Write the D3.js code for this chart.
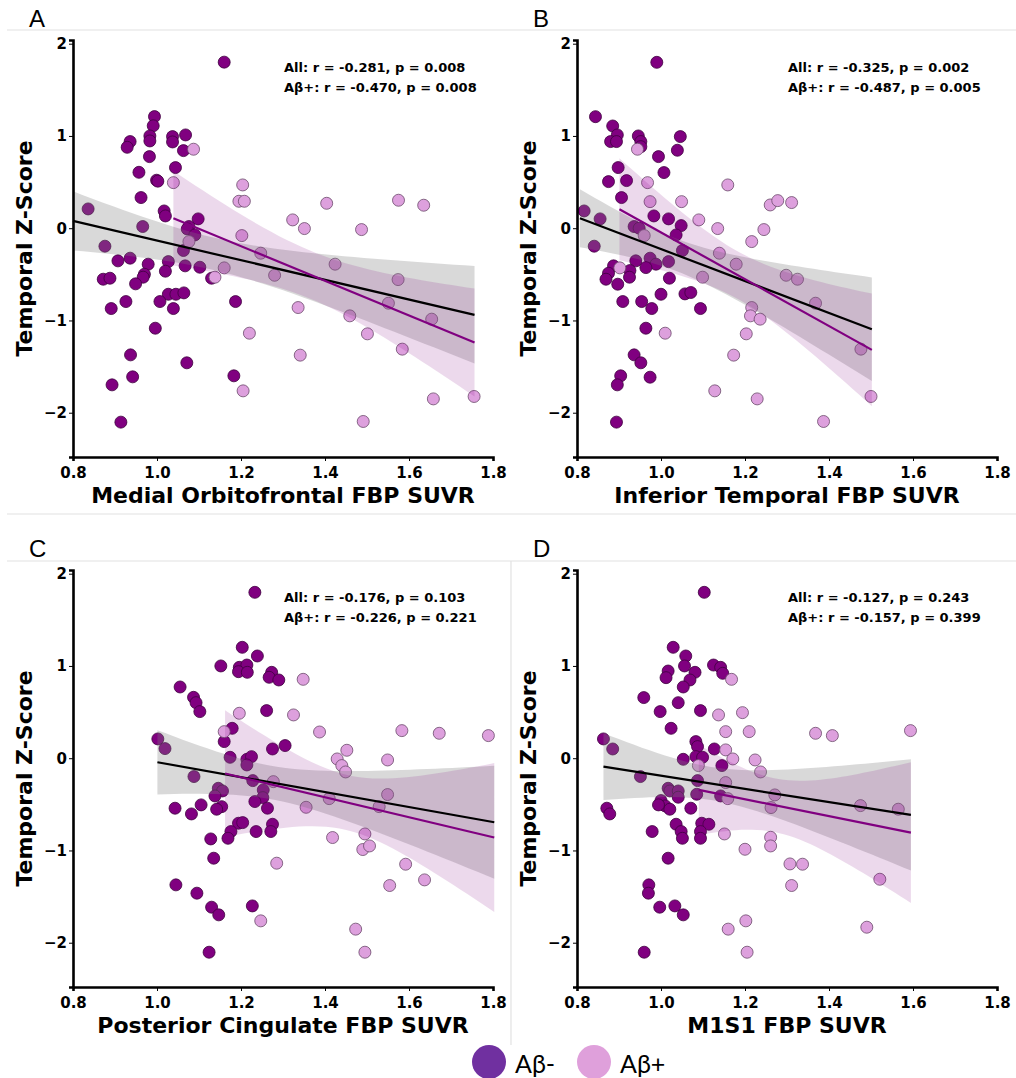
<!DOCTYPE html>
<html><head><meta charset="utf-8">
<script src="https://cdn.jsdelivr.net/npm/d3@7"></script>
<style>body{margin:0;background:#fff;} svg{display:block}</style>
</head><body><svg id="chart" width="1016" height="1078"></svg>
<script>
// ---------------- DATA ----------------
const xTicks = [0.8, 1.0, 1.2, 1.4, 1.6, 1.8];
const yTicks = [-2, -1, 0, 1, 2];
const panelLetters = ["A", "B", "C", "D"];
const xLabels = ["Medial Orbitofrontal FBP SUVR", "Inferior Temporal FBP SUVR", "Posterior Cingulate FBP SUVR", "M1S1 FBP SUVR"];
const yLabel = "Temporal Z-Score";
const statsAll = ["All: r = -0.281, p = 0.008", "All: r = -0.325, p = 0.002", "All: r = -0.176, p = 0.103", "All: r = -0.127, p = 0.243"];
const statsPos = ["Aβ+: r = -0.470, p = 0.008", "Aβ+: r = -0.487, p = 0.005", "Aβ+: r = -0.226, p = 0.221", "Aβ+: r = -0.157, p = 0.399"];
const legendLabels = ["Aβ-", "Aβ+"];

// Panel A (Medial Orbitofrontal)
const aNegX = [1.160,0.994,0.991,0.983,0.983,0.936,0.929,1.037,1.037,1.068,1.063,0.982,1.044,0.957,0.999,1.002,0.962,0.836,1.017,1.020,1.098,0.966,1.076,1.072,1.090,0.876,1.063,0.907,0.936,0.979,1.027,1.067,1.102,1.020,0.970,0.967,0.949,0.872,0.888,1.130,1.027,1.045,1.064,1.007,0.926,0.891,1.039,1.187,0.996,0.937,1.071,0.942,0.893,1.183,0.914];
const aNegY = [1.80,1.21,1.11,1.00,0.946,0.939,0.877,0.993,0.935,1.011,0.841,0.776,0.657,0.606,0.52,0.51,0.332,0.209,0.187,0.133,0.101,0.018,0.018,-0.008,-0.073,-0.195,-0.242,-0.354,-0.325,-0.390,-0.362,-0.408,-0.423,-0.466,-0.499,-0.531,-0.603,-0.553,-0.542,-0.542,-0.716,-0.716,-0.701,-0.795,-0.795,-0.871,-0.871,-0.795,-1.084,-1.373,-1.459,-1.611,-1.698,-1.600,-2.102];
const aPosX = [1.087,1.039,1.204,1.195,1.208,1.202,1.076,1.247,1.160,1.138,1.280,1.220,1.205,1.404,1.323,1.351,1.487,1.575,1.635,1.424,1.574,1.551,1.654,1.336,1.459,1.501,1.584,1.341,1.658,1.755,1.491];
const aPosY = [0.856,0.494,0.469,0.292,0.292,-0.080,-0.145,-0.271,-0.430,-0.531,-0.510,-1.138,-1.763,0.270,0.090,-0.004,-0.015,0.303,0.249,-0.390,-0.557,-0.813,-0.986,-0.860,-0.950,-1.145,-1.311,-1.376,-1.850,-1.824,-2.095];

// Panel B (Inferior Temporal)
const bNegX = [0.990,0.844,0.885,0.896,0.880,0.894,0.946,0.952,0.952,1.046,1.039,0.994,0.898,1.007,0.875,0.918,0.906,0.817,0.855,0.983,1.018,0.936,0.948,1.048,1.036,1.051,0.841,0.940,0.974,0.988,1.018,0.964,0.887,0.926,0.925,0.875,0.869,0.897,1.020,1.057,1.071,1.000,0.909,0.954,0.978,1.094,0.964,0.936,0.952,0.904,0.896,0.974,0.894];
const bNegY = [1.798,1.209,1.108,1.011,0.939,0.939,1.000,0.939,0.884,0.993,0.845,0.776,0.657,0.603,0.505,0.516,0.332,0.187,0.101,0.133,0.101,0.018,0.000,0.028,-0.073,-0.242,-0.195,-0.354,-0.325,-0.390,-0.362,-0.427,-0.408,-0.459,-0.531,-0.488,-0.553,-0.607,-0.542,-0.712,-0.697,-0.716,-0.795,-0.795,-0.871,-0.871,-1.084,-1.373,-1.459,-1.600,-1.698,-1.615,-2.102];
const bPosX = [0.944,0.968,1.159,0.974,1.049,1.260,1.278,1.311,1.090,1.135,1.245,1.216,0.960,1.139,1.179,0.902,1.099,1.298,1.325,1.216,1.213,1.236,1.203,1.010,1.173,1.128,1.229,1.368,1.476,1.500,1.387];
const bPosY = [0.856,0.494,0.469,0.288,0.288,0.252,0.299,0.278,0.090,-0.004,-0.015,-0.145,-0.080,-0.271,-0.390,-0.430,-0.531,-0.510,-0.553,-0.860,-0.950,-0.986,-1.145,-1.138,-1.376,-1.763,-1.850,-0.813,-1.311,-1.824,-2.095];

// Panel C (Posterior Cingulate)
const cNegX = [1.233,1.203,1.239,1.152,1.196,1.214,1.194,1.215,1.273,1.267,1.290,1.055,1.087,1.093,1.102,1.261,1.179,1.002,1.019,1.160,1.275,1.305,1.174,1.214,1.225,1.214,1.088,1.228,1.146,1.156,1.138,1.154,1.142,1.253,1.252,1.233,1.263,1.043,1.082,1.105,1.194,1.204,1.176,1.169,1.236,1.275,1.271,1.128,1.135,1.045,1.095,1.130,1.147,1.227,1.124];
const cNegY = [1.798,1.202,1.108,1.000,0.985,1.010,0.938,0.931,0.931,0.877,0.848,0.772,0.660,0.602,0.505,0.516,0.324,0.209,0.104,0.180,0.100,0.137,0.010,-0.012,0.017,-0.073,-0.199,-0.243,-0.326,-0.355,-0.409,-0.525,-0.553,-0.344,-0.427,-0.470,-0.542,-0.542,-0.604,-0.506,-0.705,-0.698,-0.795,-0.868,-0.795,-0.716,-0.795,-0.875,-1.084,-1.373,-1.463,-1.615,-1.698,-1.601,-2.103];
const cPosX = [1.196,1.160,1.277,1.285,1.247,1.348,1.325,1.387,1.583,1.672,1.789,1.452,1.429,1.440,1.449,1.549,1.410,1.355,1.549,1.529,1.418,1.495,1.490,1.506,1.592,1.554,1.637,1.473,1.495];
const cPosY = [0.487,0.288,-0.254,-1.138,-1.763,0.855,0.469,0.284,0.299,0.270,0.245,0.086,-0.008,-0.080,-0.149,-0.019,-0.438,-0.532,-0.394,-0.525,-0.860,-0.821,-0.990,-0.951,-1.149,-1.380,-1.319,-1.853,-2.103];

// Panel D (M1S1)
const dNegX = [1.103,1.029,1.059,1.056,1.017,1.012,1.081,1.069,1.053,1.125,1.142,1.147,0.959,1.041,0.998,1.094,1.024,0.863,0.885,1.083,1.087,1.127,1.053,1.083,1.099,1.145,0.951,1.087,1.017,1.021,1.041,1.041,1.085,1.142,1.000,1.010,1.021,0.994,1.071,0.871,0.878,1.097,1.114,1.036,1.048,1.051,1.094,1.094,0.979,1.017,0.971,0.970,0.997,1.033,1.053,0.960];
const dNegY = [1.798,1.202,1.108,1.000,0.945,0.873,0.931,0.848,0.772,1.010,0.985,0.920,0.657,0.602,0.505,0.516,0.324,0.209,0.100,0.180,0.126,0.100,-0.012,0.017,0.010,-0.080,-0.199,-0.243,-0.326,-0.355,-0.355,-0.423,-0.391,-0.409,-0.459,-0.517,-0.553,-0.506,-0.542,-0.542,-0.604,-0.705,-0.716,-0.716,-0.795,-0.868,-0.795,-0.868,-0.795,-1.084,-1.373,-1.463,-1.615,-1.601,-1.698,-2.103];
const dPosX = [1.168,1.137,1.194,1.154,1.210,1.154,1.171,1.224,1.089,1.237,1.154,1.159,1.271,1.262,1.151,1.261,1.261,1.200,1.307,1.311,1.160,1.202,1.205,1.368,1.408,1.594,1.475,1.565,1.337,1.521,1.490];
const dPosY = [0.855,0.469,0.494,0.288,0.288,0.090,-0.008,-0.019,-0.080,-0.149,-0.264,-0.438,-0.398,-0.535,-0.821,-0.857,-0.951,-0.987,-1.146,-1.380,-1.853,-1.763,-2.103,0.270,0.245,0.299,-0.514,-0.553,-1.149,-1.312,-1.832];

// Regression lines: [x0, y0, x1, y1]
const fitAll = [[0.800, 0.079, 1.756, -0.939], [0.807, 0.108, 1.502, -1.095], [1.001, -0.044, 1.803, -0.694], [0.863, -0.091, 1.595, -0.615]];
const fitPos = [[1.039, 0.108, 1.756, -1.239], [0.901, 0.205, 1.502, -1.319], [1.162, -0.166, 1.803, -0.860], [1.090, -0.344, 1.595, -0.806]];

// ---------------- DRAW ----------------
const panels = [
  {neg: [aNegX, aNegY], pos: [aPosX, aPosY]},
  {neg: [bNegX, bNegY], pos: [bPosX, bPosY]},
  {neg: [cNegX, cNegY], pos: [cPosX, cPosY]},
  {neg: [dNegX, dNegY], pos: [dPosX, dPosY]}
];
const svg = d3.select("#chart");
const FONT = "'DejaVu Sans', sans-serif";
const negFill = "#800080", posFill = "#dda0dd";

// separators
const sep = svg.append("g").attr("stroke", "#e2e2e2").attr("stroke-width", 1.2);
[30, 514, 561].forEach(y => sep.append("line").attr("x1", 7).attr("x2", 1016).attr("y1", y).attr("y2", y));
sep.append("line").attr("x1", 511).attr("x2", 511).attr("y1", 561).attr("y2", 1045);

function ciBand(xs, ys, fit) {
  const [x0, y0, x1, y1] = fit;
  const slope = (y1 - y0) / (x1 - x0), b = y0 - slope * x0;
  const n = xs.length, mx = d3.mean(xs);
  const sxx = d3.sum(xs, x => (x - mx) ** 2);
  const sse = d3.sum(xs, (x, i) => (ys[i] - (b + slope * x)) ** 2);
  const s = Math.sqrt(sse / (n - 2));
  const t = n > 40 ? 1.99 : 2.05;
  return d3.range(0, 41).map(i => {
    const x = x0 + (x1 - x0) * i / 40;
    const yh = b + slope * x;
    const h = t * s * Math.sqrt(1 / n + (x - mx) ** 2 / sxx);
    return {x, lo: yh - h, hi: yh + h};
  });
}

panels.forEach((p, k) => {
  const ox = (k % 2) * 504, oy = Math.floor(k / 2) * 530;
  const g = svg.append("g").attr("transform", `translate(${ox},${oy})`);
  const x = d3.scaleLinear().domain([0.8, 1.8]).range([73, 493]);
  const y = d3.scaleLinear().domain([-2.48, 2.04]).range([457, 40]);

  // panel letter
  g.append("text").attr("x", 29).attr("y", 27).text(panelLetters[k])
    .attr("font-family", "'Liberation Sans', Arial, sans-serif").attr("font-size", 24);

  // points
  const pts = [];
  p.neg[0].forEach((v, i) => pts.push({x: v, y: p.neg[1][i], grp: 0}));
  p.pos[0].forEach((v, i) => pts.push({x: v, y: p.pos[1][i], grp: 1}));
  g.append("g").selectAll("circle").data(pts).join("circle")
    .attr("cx", d => x(d.x)).attr("cy", d => y(d.y)).attr("r", 6)
    .attr("fill", d => d.grp ? posFill : negFill)
    .attr("stroke", d => d.grp ? "#6b4a6b" : "#3d003d").attr("stroke-width", 0.8);

  // CI bands
  const allX = p.neg[0].concat(p.pos[0]), allY = p.neg[1].concat(p.pos[1]);
  const area = d3.area().x(d => x(d.x)).y0(d => y(d.lo)).y1(d => y(d.hi));
  g.append("path").attr("d", area(ciBand(allX, allY, fitAll[k]))).attr("fill", "#808080").attr("opacity", 0.3);
  g.append("path").attr("d", area(ciBand(p.pos[0], p.pos[1], fitPos[k]))).attr("fill", "#800080").attr("opacity", 0.15);

  // regression lines
  [[fitAll[k], "#000"], [fitPos[k], "#800080"]].forEach(([f, c]) => {
    g.append("line").attr("x1", x(f[0])).attr("y1", y(f[1])).attr("x2", x(f[2])).attr("y2", y(f[3]))
      .attr("stroke", c).attr("stroke-width", 2.2);
  });

  // axes
  const ax = g.append("g").attr("transform", "translate(0,457)")
    .call(d3.axisBottom(x).tickValues(xTicks).tickFormat(d3.format(".1f")).tickSizeOuter(0).tickSize(4));
  const ay = g.append("g").attr("transform", "translate(73,0)")
    .call(d3.axisLeft(y).tickValues(yTicks).tickFormat(d3.format("d")).tickSizeOuter(0).tickSize(4));
  [ax, ay].forEach(a => {
    a.select(".domain").attr("stroke", "#000").attr("stroke-width", 2.6);
    a.selectAll(".tick line").attr("stroke", "#000").attr("stroke-width", 1);
    a.selectAll(".tick text").attr("font-family", FONT).attr("font-weight", "bold").attr("font-size", 15).attr("fill", "#000");
  });
  ax.selectAll(".tick text").attr("dy", "0.95em");
  ay.selectAll(".tick text").attr("x", -6);

  // axis labels
  g.append("text").attr("x", 283).attr("y", 503).attr("text-anchor", "middle")
    .attr("font-family", FONT).attr("font-weight", "bold").attr("font-size", 22).text(xLabels[k]);
  g.append("text").attr("transform", "translate(32,248.5) rotate(-90)").attr("text-anchor", "middle")
    .attr("font-family", FONT).attr("font-weight", "bold").attr("font-size", 22).text(yLabel);

  // stats
  g.append("text").attr("x", 284).attr("y", 72).attr("font-family", FONT).attr("font-weight", "bold").attr("font-size", 13).text(statsAll[k]);
  g.append("text").attr("x", 284).attr("y", 92).attr("font-family", FONT).attr("font-weight", "bold").attr("font-size", 13).text(statsPos[k]);
});

// legend
const lg = svg.append("g");
[["#7030a0", 489, 515], ["#dfa0db", 594, 620]].forEach(([c, cx, tx], i) => {
  lg.append("circle").attr("cx", cx).attr("cy", 1062).attr("r", 17).attr("fill", c);
  lg.append("text").attr("x", tx).attr("y", 1073).text(legendLabels[i])
    .attr("font-family", "Lato, 'Open Sans', sans-serif").attr("font-size", 25);
});
</script></body></html>
